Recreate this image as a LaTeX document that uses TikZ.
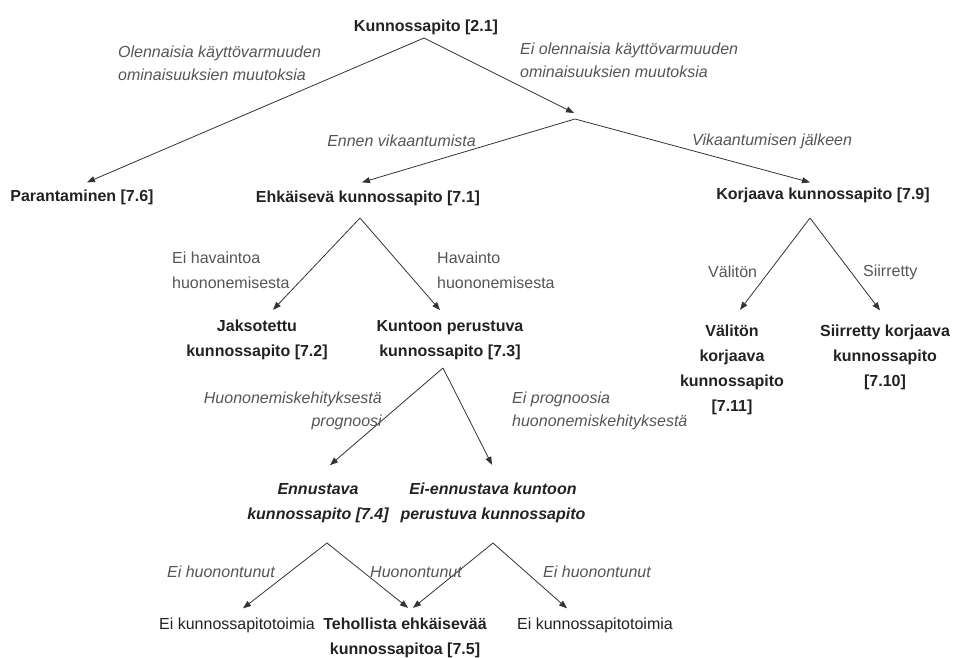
\documentclass[tikz,border=0pt]{standalone}
\usepackage{fontspec}
\setmainfont{Liberation Sans}
\usepackage{tikz}
\usetikzlibrary{arrows.meta,positioning,calc}

\definecolor{inkdark}{HTML}{222222}
\definecolor{inklabel}{HTML}{555555}
\definecolor{inkline}{HTML}{333333}

\tikzset{
  box/.style={font=\bfseries\fontsize{16}{25}\selectfont, text=inkdark, align=center, inner sep=1pt},
  boxit/.style={box, font=\bfseries\itshape\fontsize{16}{25}\selectfont},
  leaf/.style={font=\fontsize{16}{25}\selectfont, text=inkdark, align=center, inner sep=1pt},
  lab/.style={font=\fontsize{16}{25}\selectfont, text=inklabel, inner sep=0pt},
  labit/.style={font=\itshape\fontsize{16}{23}\selectfont, text=inklabel, inner sep=0pt},
  arr/.style={-{Triangle[length=8pt,width=6pt]}, draw=inkline, line width=0.8pt},
  seg/.style={draw=inkline, line width=0.8pt}
}

\begin{document}
\begin{tikzpicture}[x=1pt,y=-1pt]
    \useasboundingbox (0,0) rectangle (954,657);

    % Nodes
    \node[box] (root) at (426,27) {Kunnossapito [2.1]};
    \node[box] (n76) at (82,197) {Parantaminen [7.6]};
    \node[box] (n71) at (368,198) {Ehkäisevä kunnossapito [7.1]};
    \node[box] (n79) at (823,195) {Korjaava kunnossapito [7.9]};
    \node[box] (n72) at (257,340) {Jaksotettu\\kunnossapito [7.2]};
    \node[box] (n73) at (450,340) {Kuntoon perustuva\\kunnossapito [7.3]};
    \node[box] (n711) at (732,370) {Välitön\\korjaava\\kunnossapito\\{[7.11]}};
    \node[box] (n710) at (885,357) {Siirretty korjaava\\kunnossapito\\{[7.10]}};
    \node[boxit] (n74) at (318,503) {Ennustava\\kunnossapito [7.4]};
    \node[boxit] (nei) at (493,503) {Ei-ennustava kuntoon\\perustuva kunnossapito};
    \node[box] (n75) at (405,638) {Tehollista ehkäisevää\\kunnossapitoa [7.5]};
    \node[leaf] (eil) at (237,625) {Ei kunnossapitotoimia};
    \node[leaf] (eir) at (595,625) {Ei kunnossapitotoimia};

    % Branch points
    \coordinate (a0) at (424,38);
    \coordinate (j) at (575,119);
    \coordinate (a71) at (360,218);
    \coordinate (a79) at (810,218);
    \coordinate (a73) at (443,368);
    \coordinate (a74) at (327,543);
    \coordinate (aei) at (493,543);

    % Connectors
    \draw[arr] (a0) -- ([xshift=5pt,yshift=6pt]n76.north);
    \draw[arr] (a0) -- ([xshift=-1pt,yshift=6pt]j);
    \draw[arr] (j) -- ([xshift=-6pt,yshift=7pt]n71.north);
    \draw[arr] (j) -- ([xshift=-13pt,yshift=4pt]n79.north);
    \draw[arr] (a71) -- ([xshift=16pt,yshift=9pt]n72.north);
    \draw[arr] (a71) -- ([xshift=-10pt,yshift=9pt]n73.north);
    \draw[arr] (a79) -- ([xshift=8pt,yshift=14pt]n711.north);
    \draw[arr] (a79) -- ([xshift=-5pt,yshift=13pt]n710.north);
    \draw[arr] (a73) -- ([xshift=12pt,yshift=17pt]n74.north);
    \draw[arr] (a73) -- ([xshift=-1pt,yshift=17pt]nei.north);
    \draw[arr] (a74) -- ([xshift=6pt,yshift=8pt]eil.north);
    \draw[arr] (a74) -- ([xshift=3pt,yshift=9pt]n75.north);
    \draw[arr] (aei) -- ([xshift=8pt,yshift=9pt]n75.north);
    \draw[arr] (aei) -- ([xshift=-28pt,yshift=8pt]eir.north);

    % Branch labels
    \node[labit, anchor=north west, align=left] (l1) at (118,46) {Olennaisia käyttövarmuuden\\ominaisuuksien muutoksia};
    \node[labit, anchor=north west, align=left] (l2) at (520,43) {Ei olennaisia käyttövarmuuden\\ominaisuuksien muutoksia};
    \node[labit, anchor=east] (l3) at (476,141) {Ennen vikaantumista};
    \node[labit, anchor=west] (l4) at (692,141) {Vikaantumisen jälkeen};
    \node[lab, anchor=north west, align=left] (l5) at (172,252) {Ei havaintoa\\huononemisesta};
    \node[lab, anchor=north west, align=left] (l6) at (437,252) {Havainto\\huononemisesta};
    \node[lab, anchor=west] (l7) at (708,272) {Välitön};
    \node[lab, anchor=west] (l8) at (863,272) {Siirretty};
    \node[labit, anchor=north east, align=right] (l9) at (382,392) {Huononemiskehityksestä\\prognoosi};
    \node[labit, anchor=north west, align=left] (l10) at (512,392) {Ei prognoosia\\huononemiskehityksestä};
    \node[labit, anchor=east] (l11) at (275,572) {Ei huonontunut};
    \node[labit, anchor=west] (l12) at (370,572) {Huonontunut};
    \node[labit, anchor=west] (l13) at (543,572) {Ei huonontunut};
\end{tikzpicture}
\end{document}
